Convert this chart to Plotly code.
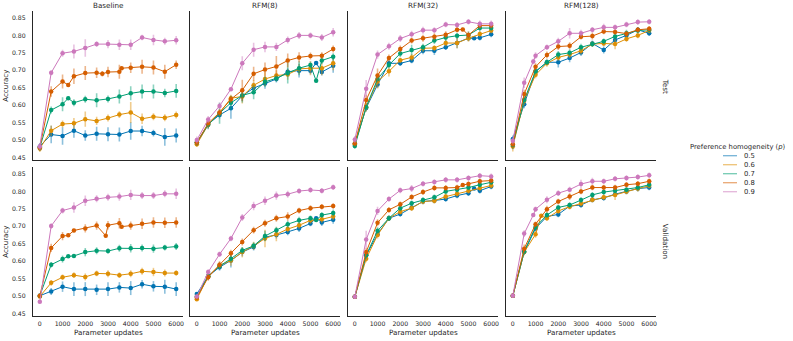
import plotly.graph_objects as go

W, H = 793, 341

STEPS = [0, 500, 1000, 1500, 2000, 2500, 3000, 3500, 4000, 4500, 5000, 5500, 6000]
HOMOGENEITY = ["0.5", "0.6", "0.7", "0.8", "0.9"]
COLORS = ["#0173b2", "#de8f05", "#029e73", "#d55e00", "#cc78bc"]
MODELS = ["Baseline", "RFM(8)", "RFM(32)", "RFM(128)"]
SPLITS = ["Test", "Validation"]
X_TICKS = [0, 1000, 2000, 3000, 4000, 5000, 6000]
Y_TICKS = [0.45, 0.50, 0.55, 0.60, 0.65, 0.70, 0.75, 0.80, 0.85]

# ---------------- Test ----------------
TEST_BASELINE_Y = [
    [0.482, 0.516, 0.512, 0.527, 0.513, 0.518, 0.517, 0.516, 0.526, 0.526, 0.520, 0.509, 0.513],
    [0.476, 0.527, 0.546, 0.548, 0.560, 0.555, 0.563, 0.573, 0.579, 0.561, 0.567, 0.564, 0.572],
    [0.479, 0.586, 0.603, 0.607, 0.617, 0.614, 0.618, 0.625, 0.634, 0.639, 0.639, 0.635, 0.641],
    [0.479, 0.639, 0.668, 0.683, 0.692, 0.693, 0.695, 0.696, 0.707, 0.710, 0.708, 0.696, 0.716],
    [0.482, 0.693, 0.749, 0.754, 0.764, 0.775, 0.775, 0.773, 0.773, 0.794, 0.787, 0.783, 0.786],
]
TEST_BASELINE_E = [
    [0.010, 0.025, 0.025, 0.020, 0.015, 0.020, 0.020, 0.020, 0.025, 0.015, 0.010, 0.025, 0.020],
    [0.010, 0.015, 0.010, 0.015, 0.022, 0.012, 0.010, 0.010, 0.030, 0.015, 0.010, 0.010, 0.010],
    [0.010, 0.010, 0.020, 0.010, 0.010, 0.020, 0.010, 0.020, 0.020, 0.020, 0.020, 0.012, 0.020],
    [0.010, 0.015, 0.020, 0.022, 0.020, 0.015, 0.015, 0.020, 0.015, 0.020, 0.020, 0.020, 0.012],
    [0.010, 0.007, 0.010, 0.020, 0.025, 0.008, 0.012, 0.015, 0.015, 0.008, 0.015, 0.010, 0.012],
]
TEST_BASELINE_EXTRA = [(2, 1250, 0.620, 0.005), (3, 1250, 0.658, 0.005), (3, 2750, 0.690, 0.008), (3, 3600, 0.706, 0.005)]

TEST_RFM8_Y = [
    [0.493, 0.546, 0.572, 0.591, 0.627, 0.649, 0.662, 0.675, 0.696, 0.699, 0.699, 0.695, 0.713],
    [0.488, 0.544, 0.578, 0.620, 0.625, 0.657, 0.675, 0.685, 0.688, 0.704, 0.706, 0.706, 0.720],
    [0.493, 0.544, 0.577, 0.607, 0.628, 0.637, 0.667, 0.677, 0.692, 0.706, 0.715, 0.728, 0.739],
    [0.493, 0.548, 0.579, 0.617, 0.643, 0.690, 0.702, 0.711, 0.728, 0.737, 0.741, 0.742, 0.761],
    [0.500, 0.559, 0.598, 0.646, 0.720, 0.759, 0.767, 0.767, 0.787, 0.800, 0.800, 0.794, 0.809],
]
TEST_RFM8_E = [
    [0.010, 0.015, 0.010, 0.030, 0.015, 0.015, 0.015, 0.010, 0.010, 0.020, 0.010, 0.010, 0.020],
    [0.008, 0.010, 0.010, 0.010, 0.020, 0.015, 0.020, 0.015, 0.015, 0.015, 0.020, 0.020, 0.020],
    [0.010, 0.010, 0.030, 0.020, 0.020, 0.020, 0.015, 0.010, 0.030, 0.020, 0.010, 0.010, 0.010],
    [0.010, 0.012, 0.010, 0.010, 0.030, 0.020, 0.020, 0.030, 0.020, 0.015, 0.010, 0.010, 0.010],
    [0.010, 0.010, 0.010, 0.005, 0.020, 0.020, 0.015, 0.012, 0.010, 0.010, 0.008, 0.010, 0.012],
]
TEST_RFM8_EXTRA = [(0, 5250, 0.721, 0.005), (2, 5250, 0.670, 0.005)]

TEST_RFM32_Y = [
    [0.490, 0.592, 0.659, 0.720, 0.720, 0.728, 0.756, 0.756, 0.766, 0.778, 0.792, 0.793, 0.803],
    [0.488, 0.594, 0.668, 0.697, 0.729, 0.737, 0.763, 0.764, 0.778, 0.778, 0.792, 0.804, 0.814],
    [0.483, 0.595, 0.675, 0.715, 0.748, 0.758, 0.766, 0.785, 0.794, 0.799, 0.801, 0.821, 0.821],
    [0.490, 0.615, 0.685, 0.735, 0.761, 0.785, 0.792, 0.796, 0.802, 0.816, 0.801, 0.828, 0.828],
    [0.502, 0.647, 0.745, 0.769, 0.791, 0.803, 0.815, 0.815, 0.831, 0.830, 0.839, 0.833, 0.833],
]
TEST_RFM32_E = [
    [0.008, 0.010, 0.010, 0.010, 0.008, 0.008, 0.010, 0.012, 0.008, 0.015, 0.008, 0.008, 0.008],
    [0.008, 0.012, 0.020, 0.015, 0.008, 0.010, 0.010, 0.008, 0.010, 0.015, 0.010, 0.008, 0.008],
    [0.008, 0.010, 0.010, 0.010, 0.010, 0.015, 0.010, 0.010, 0.010, 0.008, 0.010, 0.010, 0.008],
    [0.008, 0.015, 0.020, 0.010, 0.010, 0.008, 0.010, 0.010, 0.010, 0.008, 0.010, 0.008, 0.008],
    [0.010, 0.025, 0.012, 0.010, 0.010, 0.010, 0.010, 0.008, 0.008, 0.008, 0.008, 0.010, 0.010],
]
TEST_RFM32_EXTRA = [(0, 5250, 0.792, 0.005), (3, 4750, 0.817, 0.005)]

TEST_RFM128_Y = [
    [0.503, 0.603, 0.696, 0.723, 0.723, 0.735, 0.751, 0.777, 0.758, 0.787, 0.800, 0.816, 0.806],
    [0.482, 0.613, 0.687, 0.720, 0.737, 0.745, 0.756, 0.775, 0.777, 0.775, 0.790, 0.800, 0.814],
    [0.486, 0.615, 0.697, 0.723, 0.745, 0.750, 0.766, 0.775, 0.783, 0.797, 0.806, 0.814, 0.816],
    [0.488, 0.632, 0.710, 0.744, 0.768, 0.770, 0.796, 0.798, 0.811, 0.810, 0.805, 0.816, 0.819],
    [0.498, 0.664, 0.742, 0.766, 0.783, 0.806, 0.806, 0.816, 0.823, 0.823, 0.831, 0.838, 0.839],
]
TEST_RFM128_E = [
    [0.010, 0.012, 0.010, 0.008, 0.015, 0.012, 0.010, 0.008, 0.010, 0.010, 0.008, 0.008, 0.008],
    [0.015, 0.012, 0.010, 0.010, 0.010, 0.010, 0.010, 0.008, 0.008, 0.015, 0.008, 0.008, 0.008],
    [0.012, 0.010, 0.008, 0.008, 0.010, 0.010, 0.010, 0.008, 0.008, 0.008, 0.010, 0.008, 0.008],
    [0.012, 0.012, 0.010, 0.010, 0.010, 0.010, 0.008, 0.010, 0.008, 0.008, 0.008, 0.008, 0.008],
    [0.010, 0.015, 0.010, 0.008, 0.010, 0.015, 0.010, 0.008, 0.010, 0.008, 0.008, 0.008, 0.008],
]
TEST_RFM128_EXTRA = [(4, 900, 0.725, 0.008)]

# ---------------- Validation ----------------
VAL_BASELINE_Y = [
    [0.501, 0.513, 0.527, 0.520, 0.520, 0.518, 0.520, 0.525, 0.523, 0.534, 0.528, 0.527, 0.520],
    [0.499, 0.538, 0.554, 0.560, 0.555, 0.565, 0.564, 0.560, 0.564, 0.571, 0.569, 0.566, 0.566],
    [0.501, 0.590, 0.606, 0.615, 0.626, 0.630, 0.629, 0.637, 0.637, 0.638, 0.636, 0.639, 0.642],
    [0.501, 0.638, 0.672, 0.688, 0.694, 0.702, 0.703, 0.709, 0.702, 0.707, 0.711, 0.710, 0.711],
    [0.484, 0.701, 0.745, 0.754, 0.773, 0.779, 0.783, 0.785, 0.790, 0.788, 0.788, 0.793, 0.793],
]
VAL_BASELINE_E = [
    [0.005, 0.010, 0.015, 0.020, 0.020, 0.015, 0.020, 0.015, 0.020, 0.012, 0.015, 0.020, 0.020],
    [0.005, 0.008, 0.008, 0.008, 0.010, 0.008, 0.010, 0.008, 0.010, 0.010, 0.012, 0.010, 0.008],
    [0.005, 0.008, 0.010, 0.005, 0.012, 0.010, 0.008, 0.010, 0.012, 0.010, 0.012, 0.008, 0.010],
    [0.005, 0.012, 0.012, 0.005, 0.012, 0.012, 0.012, 0.015, 0.012, 0.015, 0.015, 0.015, 0.015],
    [0.005, 0.008, 0.008, 0.015, 0.015, 0.010, 0.010, 0.012, 0.015, 0.010, 0.010, 0.010, 0.015],
]
VAL_BASELINE_EXTRA = [(2, 1250, 0.614, 0.004), (3, 1250, 0.674, 0.005), (3, 2900, 0.673, 0.005), (3, 3600, 0.699, 0.005)]

VAL_RFM8_Y = [
    [0.506, 0.557, 0.583, 0.602, 0.626, 0.641, 0.669, 0.675, 0.684, 0.694, 0.708, 0.711, 0.719],
    [0.491, 0.557, 0.588, 0.602, 0.626, 0.644, 0.665, 0.677, 0.692, 0.703, 0.717, 0.720, 0.728],
    [0.499, 0.557, 0.586, 0.607, 0.631, 0.644, 0.672, 0.689, 0.706, 0.717, 0.723, 0.732, 0.738],
    [0.496, 0.554, 0.590, 0.623, 0.655, 0.689, 0.709, 0.723, 0.728, 0.745, 0.752, 0.756, 0.758],
    [0.499, 0.569, 0.620, 0.665, 0.725, 0.758, 0.773, 0.788, 0.792, 0.801, 0.804, 0.802, 0.812],
]
VAL_RFM8_E = [
    [0.005, 0.010, 0.010, 0.020, 0.012, 0.010, 0.010, 0.010, 0.010, 0.010, 0.008, 0.010, 0.012],
    [0.005, 0.010, 0.010, 0.015, 0.015, 0.012, 0.025, 0.020, 0.010, 0.010, 0.010, 0.010, 0.010],
    [0.005, 0.008, 0.010, 0.010, 0.010, 0.010, 0.015, 0.010, 0.010, 0.010, 0.008, 0.008, 0.010],
    [0.005, 0.010, 0.010, 0.010, 0.010, 0.010, 0.010, 0.010, 0.012, 0.008, 0.008, 0.008, 0.008],
    [0.005, 0.008, 0.008, 0.008, 0.010, 0.012, 0.012, 0.012, 0.010, 0.008, 0.008, 0.008, 0.008],
]
VAL_RFM8_EXTRA = [(0, 5250, 0.723, 0.004), (2, 5250, 0.718, 0.004)]

VAL_RFM32_Y = [
    [0.498, 0.617, 0.677, 0.723, 0.735, 0.754, 0.771, 0.774, 0.778, 0.788, 0.795, 0.802, 0.814],
    [0.498, 0.607, 0.675, 0.723, 0.742, 0.752, 0.771, 0.773, 0.785, 0.793, 0.802, 0.810, 0.817],
    [0.498, 0.617, 0.687, 0.723, 0.752, 0.766, 0.775, 0.783, 0.800, 0.805, 0.811, 0.819, 0.826],
    [0.498, 0.626, 0.710, 0.747, 0.763, 0.784, 0.798, 0.810, 0.810, 0.811, 0.821, 0.829, 0.831],
    [0.498, 0.662, 0.744, 0.778, 0.803, 0.808, 0.822, 0.827, 0.833, 0.833, 0.838, 0.845, 0.843],
]
VAL_RFM32_E = [
    [0.006, 0.010, 0.008, 0.008, 0.008, 0.008, 0.008, 0.008, 0.008, 0.008, 0.008, 0.008, 0.008],
    [0.006, 0.010, 0.010, 0.008, 0.008, 0.008, 0.008, 0.008, 0.008, 0.008, 0.008, 0.008, 0.008],
    [0.006, 0.010, 0.010, 0.008, 0.008, 0.008, 0.008, 0.008, 0.008, 0.008, 0.008, 0.008, 0.008],
    [0.006, 0.012, 0.010, 0.008, 0.008, 0.008, 0.008, 0.008, 0.008, 0.008, 0.008, 0.008, 0.008],
    [0.006, 0.025, 0.012, 0.008, 0.008, 0.010, 0.008, 0.008, 0.008, 0.008, 0.008, 0.008, 0.008],
]
VAL_RFM32_EXTRA = [(0, 5250, 0.808, 0.004), (3, 4750, 0.818, 0.004)]

VAL_RFM128_Y = [
    [0.501, 0.626, 0.694, 0.728, 0.734, 0.758, 0.761, 0.776, 0.781, 0.792, 0.800, 0.808, 0.811],
    [0.501, 0.626, 0.677, 0.723, 0.744, 0.756, 0.765, 0.776, 0.783, 0.790, 0.800, 0.808, 0.816],
    [0.501, 0.628, 0.698, 0.732, 0.754, 0.761, 0.775, 0.790, 0.798, 0.802, 0.805, 0.811, 0.819],
    [0.501, 0.636, 0.706, 0.749, 0.771, 0.785, 0.800, 0.811, 0.811, 0.811, 0.819, 0.822, 0.829],
    [0.501, 0.679, 0.749, 0.776, 0.795, 0.805, 0.821, 0.829, 0.829, 0.836, 0.838, 0.841, 0.846],
]
VAL_RFM128_E = [
    [0.006, 0.008, 0.008, 0.010, 0.008, 0.008, 0.008, 0.008, 0.008, 0.008, 0.008, 0.008, 0.008],
    [0.006, 0.010, 0.010, 0.008, 0.008, 0.008, 0.008, 0.008, 0.008, 0.015, 0.008, 0.008, 0.008],
    [0.006, 0.008, 0.008, 0.008, 0.008, 0.008, 0.008, 0.008, 0.008, 0.008, 0.008, 0.008, 0.008],
    [0.006, 0.012, 0.008, 0.010, 0.008, 0.010, 0.008, 0.008, 0.008, 0.008, 0.008, 0.008, 0.008],
    [0.006, 0.010, 0.008, 0.010, 0.008, 0.008, 0.012, 0.010, 0.008, 0.008, 0.008, 0.008, 0.008],
]
VAL_RFM128_EXTRA = [(1, 1250, 0.730, 0.005), (4, 900, 0.732, 0.005)]

PANELS = [
    [(TEST_BASELINE_Y, TEST_BASELINE_E, TEST_BASELINE_EXTRA),
     (TEST_RFM8_Y, TEST_RFM8_E, TEST_RFM8_EXTRA),
     (TEST_RFM32_Y, TEST_RFM32_E, TEST_RFM32_EXTRA),
     (TEST_RFM128_Y, TEST_RFM128_E, TEST_RFM128_EXTRA)],
    [(VAL_BASELINE_Y, VAL_BASELINE_E, VAL_BASELINE_EXTRA),
     (VAL_RFM8_Y, VAL_RFM8_E, VAL_RFM8_EXTRA),
     (VAL_RFM32_Y, VAL_RFM32_E, VAL_RFM32_EXTRA),
     (VAL_RFM128_Y, VAL_RFM128_E, VAL_RFM128_EXTRA)],
]

# ---------------- layout geometry (pixels) ----------------
COL_PX = [(33, 183), (190, 340), (348, 498), (506, 656)]
ROW_PX = [(11.3, 160), (167.3, 316)]
X_RANGE = [-300, 6300]
Y_RANGE = [0.443, 0.869]
FONT = "DejaVu Sans"
TXT = "#262626"


def rgba(hex_color, a):
    h = hex_color.lstrip("#")
    return "rgba(%d,%d,%d,%.2f)" % (int(h[0:2], 16), int(h[2:4], 16), int(h[4:6], 16), a)


def px_x(x):
    return x / W


def px_y(y):
    return 1 - y / H


fig = go.Figure()
layout = {}

for r in range(2):
    for c in range(4):
        k = r * 4 + c + 1
        xa = "x" if k == 1 else "x%d" % k
        ya = "y" if k == 1 else "y%d" % k
        ys, es, extra = PANELS[r][c]
        for s in range(5):
            pts = list(zip(STEPS, ys[s], es[s]))
            pts += [(ex, ey, ee) for (si, ex, ey, ee) in extra if si == s]
            pts.sort(key=lambda p: p[0])
            fig.add_trace(go.Scatter(
                x=[p[0] for p in pts], y=[p[1] for p in pts],
                mode="lines+markers",
                line=dict(color=COLORS[s], width=1),
                marker=dict(color=COLORS[s], size=4.5, symbol="circle"),
                error_y=dict(type="data", array=[p[2] for p in pts], visible=True,
                             thickness=1.6, width=0, color=rgba(COLORS[s], 0.45)),
                xaxis=xa, yaxis=ya, showlegend=False, hoverinfo="skip",
            ))
        x0, x1 = COL_PX[c]
        y0, y1 = ROW_PX[r]
        layout["xaxis" if k == 1 else "xaxis%d" % k] = dict(
            domain=[px_x(x0), px_x(x1)], anchor=ya, range=X_RANGE,
            showline=True, linecolor=TXT, linewidth=1.1, showgrid=False, zeroline=False,
            ticks="", tickvals=X_TICKS, showticklabels=(r == 1),
            tickfont=dict(family=FONT, size=6.2, color=TXT), ticklabelstandoff=1,
        )
        layout["yaxis" if k == 1 else "yaxis%d" % k] = dict(
            domain=[px_y(y1), px_y(y0)], anchor=xa, range=Y_RANGE,
            showline=True, linecolor=TXT, linewidth=1.1, showgrid=False, zeroline=False,
            ticks="", tickvals=Y_TICKS, tickformat=".2f", showticklabels=(c == 0),
            tickfont=dict(family=FONT, size=6.2, color=TXT), ticklabelstandoff=5,
        )

annotations = []
# column titles
for c, name in enumerate(MODELS):
    x0, x1 = COL_PX[c]
    annotations.append(dict(text=name, x=px_x((x0 + x1) / 2), y=px_y(6), xref="paper", yref="paper",
                            xanchor="center", yanchor="middle", showarrow=False,
                            font=dict(family=FONT, size=7.2, color=TXT)))
    annotations.append(dict(text="Parameter updates", x=px_x((x0 + x1) / 2), y=px_y(332.5), xref="paper", yref="paper",
                            xanchor="center", yanchor="middle", showarrow=False, borderpad=0,
                            font=dict(family=FONT, size=7.2, color=TXT)))
# row labels and y titles
for r, name in enumerate(SPLITS):
    y0, y1 = ROW_PX[r]
    annotations.append(dict(text=name, x=px_x(665), y=px_y((y0 + y1) / 2), xref="paper", yref="paper",
                            xanchor="center", yanchor="middle", showarrow=False, textangle=90,
                            font=dict(family=FONT, size=7.2, color=TXT)))
    annotations.append(dict(text="Accuracy", x=px_x(6), y=px_y((y0 + y1) / 2), xref="paper", yref="paper",
                            xanchor="center", yanchor="middle", showarrow=False, textangle=-90,
                            borderpad=0, font=dict(family=FONT, size=7, color=TXT)))

# legend (drawn as text + short lines)
annotations.append(dict(text="Preference homogeneity (<i>p</i>)", x=px_x(738), y=px_y(146.7),
                        xref="paper", yref="paper", xanchor="center", yanchor="middle", showarrow=False,
                        font=dict(family=FONT, size=6.8, color=TXT)))
shapes = []
for i, lab in enumerate(HOMOGENEITY):
    yy = 155.7 + 9 * i
    shapes.append(dict(type="line", xref="paper", yref="paper", x0=px_x(723), x1=px_x(737),
                       y0=px_y(yy), y1=px_y(yy), line=dict(color=rgba(COLORS[i], 0.55), width=1.3)))
    annotations.append(dict(text=lab, x=px_x(742), y=px_y(yy), xref="paper", yref="paper",
                            xanchor="left", yanchor="middle", showarrow=False,
                            font=dict(family=FONT, size=6.8, color=TXT)))

fig.update_layout(
    width=W, height=H, autosize=False,
    margin=dict(l=0, r=0, t=0, b=0, pad=0),
    paper_bgcolor="white", plot_bgcolor="white",
    showlegend=False,
    annotations=annotations, shapes=shapes,
    font=dict(family=FONT, color=TXT),
    **layout,
)

fig.write_html(
    "out.html",
    config={"displayModeBar": False, "staticPlot": True},
    post_script="document.body.style.margin='0';document.body.style.padding='0';document.body.style.overflow='hidden';",
)
